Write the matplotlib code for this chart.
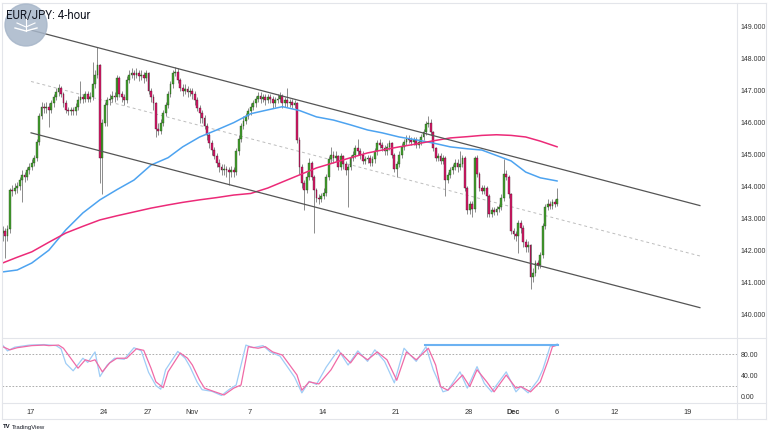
import matplotlib
matplotlib.use("Agg")
import matplotlib.pyplot as plt
from matplotlib.patches import Circle
from matplotlib.lines import Line2D
import numpy as np

# ---------------- data ----------------
TITLE = "EUR/JPY: 4-hour"

# 4-hour candles, bar index 0 = Oct 13 (first visible bar)
OPENS = [
    142.55, 142.60, 142.45, 142.65, 143.90, 143.85,
    143.95, 144.00, 144.20, 144.35, 144.30, 144.50,
    144.60, 144.75, 144.90, 145.40, 146.20, 146.50,
    146.45, 146.50, 146.40, 146.60, 146.80, 146.95,
    147.10, 146.90, 146.60, 146.40, 146.35, 146.40,
    146.35, 146.50, 146.70, 146.80, 146.75, 146.90,
    146.75, 146.80, 147.20, 147.50, 147.80, 144.90,
    146.00, 146.55, 146.70, 146.75, 146.85, 146.80,
    147.40, 146.90, 146.80, 146.70, 147.35, 147.50,
    147.55, 147.50, 147.55, 147.45, 147.50, 147.40,
    147.55, 147.00, 146.80, 146.60, 145.80, 145.75,
    146.00, 146.30, 146.55, 146.90, 147.20, 147.55,
    147.60, 147.35, 147.10, 147.00, 147.05, 146.95,
    147.00, 146.90, 146.70, 146.45, 146.30, 146.15,
    145.90, 145.60, 145.35, 145.15, 144.95, 144.75,
    144.60, 144.50, 144.55, 144.50, 144.45, 144.50,
    144.45, 145.10, 145.50, 145.90, 146.05, 146.20,
    146.35, 146.50, 146.60, 146.75, 146.85, 146.75,
    146.80, 146.70, 146.80, 146.75, 146.60, 146.70,
    146.75, 146.85, 146.60, 146.70, 146.60, 146.65,
    146.55, 146.60, 145.45, 144.60, 144.10, 143.90,
    144.30, 144.75, 144.30, 143.90, 143.65, 143.60,
    143.70, 143.80, 144.30, 144.85, 145.00, 144.90,
    144.95, 144.60, 144.95, 144.70, 144.50, 144.60,
    144.90, 145.00, 145.20, 145.10, 145.00, 144.80,
    144.85, 144.90, 144.75, 144.85, 145.10, 145.35,
    145.30, 145.20, 145.10, 145.25, 145.35, 145.00,
    144.55, 144.70, 145.00, 145.25, 145.40, 145.50,
    145.45, 145.40, 145.45, 145.30, 145.40, 145.55,
    145.70, 145.95, 146.00, 145.70, 145.20, 144.90,
    144.95, 144.80, 144.90, 144.20, 144.35, 144.50,
    144.60, 144.75, 144.60, 144.70, 144.90, 143.95,
    143.25, 143.45, 143.30, 144.90, 144.40, 143.95,
    143.85, 143.95, 143.70, 143.15, 143.25, 143.20,
    143.30, 143.35, 143.65, 144.40, 144.30, 143.75,
    142.60, 142.50, 142.45, 142.85, 142.70, 142.25,
    142.10, 142.15, 141.15, 141.30, 141.60, 141.55,
    141.85, 142.75, 143.35, 143.45, 143.40, 143.50,
    143.45,
]
CLOSES = [
    142.60, 142.45, 142.65, 143.90, 143.85, 143.95,
    144.00, 144.20, 144.35, 144.30, 144.50, 144.60,
    144.75, 144.90, 145.40, 146.20, 146.50, 146.45,
    146.50, 146.40, 146.60, 146.80, 146.95, 147.10,
    146.90, 146.60, 146.40, 146.35, 146.40, 146.35,
    146.50, 146.70, 146.80, 146.75, 146.90, 146.75,
    146.80, 147.20, 147.50, 147.80, 144.90, 146.00,
    146.55, 146.70, 146.75, 146.85, 146.80, 147.40,
    146.90, 146.80, 146.70, 147.35, 147.50, 147.55,
    147.50, 147.55, 147.45, 147.50, 147.40, 147.55,
    147.00, 146.80, 146.60, 145.80, 145.75, 146.00,
    146.30, 146.55, 146.90, 147.20, 147.55, 147.60,
    147.35, 147.10, 147.00, 147.05, 146.95, 147.00,
    146.90, 146.70, 146.45, 146.30, 146.15, 145.90,
    145.60, 145.35, 145.15, 144.95, 144.75, 144.60,
    144.50, 144.55, 144.50, 144.45, 144.50, 144.45,
    145.10, 145.50, 145.90, 146.05, 146.20, 146.35,
    146.50, 146.60, 146.75, 146.85, 146.75, 146.80,
    146.70, 146.80, 146.75, 146.60, 146.70, 146.75,
    146.85, 146.60, 146.70, 146.60, 146.65, 146.55,
    146.60, 145.45, 144.60, 144.10, 143.90, 144.30,
    144.75, 144.30, 143.90, 143.65, 143.60, 143.70,
    143.80, 144.30, 144.85, 145.00, 144.90, 144.95,
    144.60, 144.95, 144.70, 144.50, 144.60, 144.90,
    145.00, 145.20, 145.10, 145.00, 144.80, 144.85,
    144.90, 144.75, 144.85, 145.10, 145.35, 145.30,
    145.20, 145.10, 145.25, 145.35, 145.00, 144.55,
    144.70, 145.00, 145.25, 145.40, 145.50, 145.45,
    145.40, 145.45, 145.30, 145.40, 145.55, 145.70,
    145.95, 146.00, 145.70, 145.20, 144.90, 144.95,
    144.80, 144.90, 144.20, 144.35, 144.50, 144.60,
    144.75, 144.60, 144.70, 144.90, 143.95, 143.25,
    143.45, 143.30, 144.90, 144.40, 143.95, 143.85,
    143.95, 143.70, 143.15, 143.25, 143.20, 143.30,
    143.35, 143.65, 144.40, 144.30, 143.75, 142.60,
    142.50, 142.45, 142.85, 142.70, 142.25, 142.10,
    142.15, 141.15, 141.30, 141.60, 141.55, 141.85,
    142.75, 143.35, 143.45, 143.40, 143.50, 143.45,
    143.60,
]
HIGHS = [
    142.75, 142.70, 142.80, 143.95, 144.05, 144.10,
    144.15, 144.30, 144.50, 144.45, 144.60, 144.75,
    144.85, 145.00, 145.50, 146.30, 146.65, 146.60,
    146.65, 146.60, 146.70, 146.90, 147.10, 147.20,
    147.15, 146.95, 146.70, 146.50, 146.50, 146.50,
    146.60, 146.85, 147.30, 146.90, 147.00, 147.00,
    146.95, 147.90, 147.65, 148.37, 147.85, 146.10,
    146.65, 146.80, 146.90, 147.00, 146.95, 147.50,
    147.45, 147.00, 146.90, 147.45, 147.65, 147.70,
    147.65, 147.70, 147.65, 147.65, 147.60, 147.65,
    147.60, 147.10, 146.90, 146.65, 146.00, 146.10,
    146.40, 146.65, 147.00, 147.30, 147.65, 147.75,
    147.70, 147.40, 147.20, 147.20, 147.15, 147.10,
    147.10, 147.00, 146.80, 146.55, 146.40, 146.25,
    146.00, 145.70, 145.45, 145.25, 145.05, 144.85,
    144.70, 144.70, 144.65, 144.60, 144.65, 144.60,
    145.20, 145.60, 146.00, 146.20, 146.30, 146.45,
    146.60, 146.70, 146.85, 146.95, 146.95, 146.90,
    146.90, 146.90, 146.90, 146.85, 146.80, 146.90,
    146.95, 146.90, 146.80, 147.10, 146.75, 146.75,
    146.70, 146.65, 145.55, 144.70, 144.20, 144.45,
    144.90, 144.80, 144.35, 143.95, 143.75, 143.80,
    143.95, 144.40, 144.95, 145.25, 145.10, 145.10,
    145.00, 145.05, 145.00, 144.80, 144.70, 145.00,
    145.10, 145.30, 145.50, 145.20, 145.10, 144.95,
    145.00, 145.00, 144.95, 145.20, 145.45, 145.50,
    145.40, 145.30, 145.35, 145.45, 145.40, 145.05,
    144.80, 145.10, 145.35, 145.50, 145.60, 145.60,
    145.55, 145.55, 145.55, 145.50, 145.65, 145.80,
    146.05, 146.20, 146.10, 145.75, 145.25, 145.05,
    145.05, 145.00, 144.95, 144.45, 144.60, 144.70,
    144.85, 144.85, 145.10, 145.00, 144.95, 144.00,
    143.55, 143.55, 144.95, 145.00, 144.45, 144.05,
    144.05, 144.00, 143.75, 143.35, 143.35, 143.40,
    143.45, 143.75, 144.85, 144.50, 144.35, 143.80,
    142.70, 142.60, 142.95, 142.95, 142.80, 142.35,
    142.30, 142.20, 141.45, 141.70, 141.70, 141.95,
    142.85, 143.45, 143.60, 143.55, 143.60, 143.60,
    143.95,
]
LOWS = [
    142.30, 141.75, 142.30, 142.55, 143.70, 143.75,
    143.80, 143.90, 143.50, 144.15, 144.20, 144.40,
    144.50, 144.65, 144.80, 145.30, 146.10, 146.30,
    146.30, 145.85, 146.30, 146.50, 146.70, 146.85,
    146.80, 146.50, 146.30, 146.25, 146.25, 146.25,
    146.25, 146.40, 146.60, 146.60, 146.65, 146.65,
    146.65, 146.70, 147.10, 147.40, 144.10, 143.75,
    145.90, 145.90, 146.55, 146.65, 146.65, 146.70,
    146.80, 146.65, 146.55, 146.60, 147.25, 147.40,
    147.35, 147.40, 147.30, 147.35, 147.25, 147.30,
    146.90, 146.65, 146.40, 145.55, 145.60, 145.65,
    145.90, 146.20, 146.45, 146.80, 147.10, 147.45,
    147.25, 147.00, 146.85, 146.90, 146.80, 146.85,
    146.75, 146.55, 146.35, 146.00, 146.00, 145.80,
    145.45, 145.20, 145.00, 144.85, 144.60, 144.45,
    144.35, 144.35, 144.30, 144.05, 144.30, 144.30,
    144.35, 145.00, 145.40, 145.80, 145.95, 146.10,
    146.25, 146.40, 146.50, 146.65, 146.60, 146.65,
    146.55, 146.60, 146.60, 146.45, 146.50, 146.60,
    146.65, 146.45, 146.50, 146.50, 146.50, 146.45,
    146.45, 145.35, 144.40, 143.95, 143.25, 143.80,
    144.20, 144.20, 142.55, 143.50, 143.45, 143.50,
    143.60, 143.70, 144.20, 144.75, 144.75, 144.80,
    144.50, 144.50, 144.55, 144.35, 143.35, 144.50,
    144.80, 144.90, 145.00, 144.85, 144.70, 144.70,
    144.75, 144.65, 144.65, 144.75, 145.00, 145.20,
    145.10, 145.00, 145.00, 145.15, 144.90, 144.45,
    144.30, 144.60, 144.90, 145.15, 145.30, 145.35,
    145.30, 145.30, 145.20, 145.20, 145.30, 145.45,
    145.60, 145.85, 145.60, 145.10, 144.80, 144.80,
    144.70, 144.70, 143.70, 144.10, 144.25, 144.40,
    144.50, 144.45, 144.50, 144.60, 143.85, 143.15,
    143.15, 143.05, 143.20, 144.30, 143.85, 143.75,
    143.75, 143.05, 143.05, 143.05, 143.10, 143.10,
    143.20, 143.25, 143.55, 144.20, 143.65, 142.50,
    142.35, 142.30, 141.90, 142.55, 142.10, 141.95,
    141.95, 140.80, 141.00, 141.20, 141.40, 141.45,
    141.75, 142.65, 143.25, 143.30, 143.30, 143.35,
    143.40,
]

# Moving averages, read at these bar positions
MA_BARS = [0, 6, 12, 19, 26, 33, 40, 47, 54, 61, 68, 74, 81, 88, 95, 102,
           109, 115, 122, 129, 136, 143, 150, 156, 163, 170, 177, 184, 191,
           197, 203, 209, 215, 221, 228]
MA_FAST = [141.32, 141.38, 141.60, 142.00, 142.64, 143.17, 143.58, 143.90,
           144.20, 144.67, 144.90, 145.24, 145.55, 145.77, 146.00, 146.28,
           146.40, 146.50, 146.38, 146.18, 146.08, 145.93, 145.77, 145.68,
           145.55, 145.46, 145.36, 145.24, 145.18, 145.14, 144.97, 144.80,
           144.45, 144.27, 144.17]
MA_SLOW = [141.60, 141.78, 141.95, 142.25, 142.54, 142.75, 142.95, 143.08,
           143.20, 143.32, 143.42, 143.50, 143.58, 143.65, 143.73, 143.78,
           143.95, 144.14, 144.36, 144.58, 144.74, 144.90, 145.05, 145.14,
           145.24, 145.33, 145.43, 145.52, 145.56, 145.60, 145.62, 145.60,
           145.55, 145.42, 145.24]

# Descending channel (bar, price) endpoints
CH_BARS = [11.7, 286.6]
CH_UPPER = [148.90, 143.40]
CH_MID = [147.29, 141.82]
CH_LOWER = [145.68, 140.20]

# Stochastic oscillator
K_BARS = [0, 2, 5, 11, 17, 22, 24, 26, 29, 33, 35, 38, 40, 43, 46, 50, 54,
          57, 60, 63, 65, 67, 72, 75, 77, 80, 82, 86, 90, 93, 96, 100, 103,
          107, 110, 114, 117, 120, 123, 126, 129, 133, 138, 142, 146, 150,
          153, 157, 161, 165, 170, 174, 177, 181, 183, 188, 191, 195, 198,
          201, 207, 211, 213, 216, 220, 222, 225, 228]
K_VALS = [97, 86, 93, 97, 98, 96, 90, 62, 48, 72, 64, 84, 37, 59, 72, 70, 92,
          86, 45, 20, 13, 50, 85, 72, 56, 26, 12, 9, 1, 12, 21, 97, 92, 96,
          84, 76, 56, 36, 6, 28, 22, 55, 88, 59, 86, 66, 88, 66, 25, 91, 66,
          94, 50, 8, 11, 46, 15, 56, 24, 8, 46, 8, 18, 6, 30, 50, 94, 99]
D_BARS = [0, 3, 6, 12, 17, 19, 23, 25, 28, 31, 34, 36, 38, 41, 44, 47, 51,
          55, 58, 61, 63, 66, 68, 73, 76, 78, 81, 83, 86, 91, 95, 98, 101,
          105, 108, 111, 115, 118, 121, 123, 126, 130, 135, 139, 143, 146,
          150, 154, 158, 162, 166, 170, 175, 178, 180, 183, 189, 192, 195,
          199, 202, 207, 211, 213, 217, 221, 224, 226, 228]
D_VALS = [94, 88, 92, 96, 97, 96, 97, 91, 72, 53, 69, 66, 69, 46, 63, 72, 72,
          90, 87, 53, 27, 16, 46, 82, 72, 59, 30, 15, 10, 2, 15, 21, 94, 91,
          94, 84, 78, 59, 40, 11, 27, 23, 50, 82, 63, 82, 69, 84, 69, 30, 84,
          69, 91, 59, 18, 11, 40, 18, 50, 27, 8, 40, 15, 18, 8, 27, 65, 94, 97]
STOCH_LINE_BARS = [173.6, 228.3]
STOCH_LINE_VAL = 98
STOCH_BANDS = [80, 20]

PRICE_TICKS = [140, 141, 142, 143, 144, 145, 146, 147, 148, 149]
OSC_TICKS = [0, 40, 80]
DATE_DAYS = [0, 5, 8, 11, 15, 20, 25, 30, 33, 36, 40, 45]
DATE_LABELS = ["17", "24", "27", "Nov", "7", "14", "21", "28", "Dec", "6", "12", "19"]
BARS_PER_DAY = 6
FIRST_DAY_BAR = 11.67

# ---------------- figure ----------------
W, H = 768, 432
fig = plt.figure(figsize=(W / 100, H / 100), dpi=100)
fig.patch.set_facecolor("white")
FONT = ["Liberation Sans", "DejaVu Sans"]
TXT = "#333333"


def fx(px):
    return px / W


def fy(py):
    return 1 - py / H


XL, XR = 2, 737
ax = fig.add_axes([fx(XL), fy(337), (XR - XL) / W, (337 - 3) / H])
axs = fig.add_axes([fx(XL), fy(403), (XR - XL) / W, (403 - 339) / H], sharex=ax)

for a in (ax, axs):
    a.set_facecolor("white")
    for s in a.spines.values():
        s.set_visible(False)
    a.tick_params(length=0)

ax.set_xlim(-0.25, 301.85)
ax.set_ylim(139.28, 149.75)
axs.set_ylim(-13.3, 108.6)

# candles
n = len(CLOSES)
xs = np.arange(n)
o = np.array(OPENS)
c = np.array(CLOSES)
hi = np.array(HIGHS)
lo = np.array(LOWS)
up = c >= o
GREEN, RED = "#44a12f", "#d81b6a"
ax.vlines(xs, lo, hi, color="#8c8c8c", lw=0.7, zorder=3)
bottoms = np.minimum(o, c)
heights = np.maximum(np.abs(c - o), 0.015)
ax.bar(xs[up], heights[up], bottom=bottoms[up], width=0.75, color=GREEN,
       edgecolor="#1e3d14", linewidth=0.25, zorder=4)
ax.bar(xs[~up], heights[~up], bottom=bottoms[~up], width=0.75, color=RED,
       edgecolor="#3d0b1e", linewidth=0.25, zorder=4)

# moving averages
ax.plot(MA_BARS, MA_FAST, color="#4da3f0", lw=1.1, zorder=5, solid_capstyle="round")
ax.plot(MA_BARS, MA_SLOW, color="#ec2a78", lw=1.1, zorder=5, solid_capstyle="round")

# channel
ax.plot(CH_BARS, CH_UPPER, color="#555555", lw=0.9, zorder=6)
ax.plot(CH_BARS, CH_LOWER, color="#555555", lw=0.9, zorder=6)
ax.plot(CH_BARS, CH_MID, color="#bdbdbd", lw=0.7, ls=(0, (3, 3)), zorder=2)

# price axis labels on right
ax.yaxis.tick_right()
ax.set_yticks(PRICE_TICKS)
ax.set_yticklabels([f"{v:.3f}" for v in PRICE_TICKS], fontsize=5, color=TXT,
                   family=FONT)
ax.tick_params(axis="y", pad=2.5)
ax.tick_params(axis="x", labelbottom=False)

# stochastic
for b in STOCH_BANDS:
    axs.axhline(b, color="#a0a0a0", lw=0.6, ls=(0, (2, 2)), zorder=1)
axs.plot(K_BARS, K_VALS, color="#9fcdf6", lw=0.9, zorder=3)
axs.plot(D_BARS, D_VALS, color="#f06aa6", lw=0.9, zorder=4)
axs.plot(STOCH_LINE_BARS, [STOCH_LINE_VAL] * 2, color="#6cb2f2", lw=1.5, zorder=5)
axs.yaxis.tick_right()
axs.set_yticks(OSC_TICKS)
axs.set_yticklabels([f"{v:.2f}" for v in OSC_TICKS], fontsize=5, color=TXT,
                    family=FONT)
axs.tick_params(axis="y", pad=2.5)

# date axis
tick_pos = [FIRST_DAY_BAR + BARS_PER_DAY * d for d in DATE_DAYS]
axs.set_xticks(tick_pos)
axs.set_xticklabels(DATE_LABELS, fontsize=5.3, color=TXT, family=FONT)
axs.tick_params(axis="x", pad=4)
for lab in axs.get_xticklabels():
    if lab.get_text() == "Dec":
        lab.set_fontweight("bold")

# frame lines
GRID = "#e3e5ea"


def hline(py, x0=2, x1=766):
    fig.add_artist(Line2D([fx(x0), fx(x1)], [fy(py), fy(py)], color=GRID, lw=0.8))


def vline(px, y0=3, y1=419):
    fig.add_artist(Line2D([fx(px), fx(px)], [fy(y0), fy(y1)], color=GRID, lw=0.8))


for py in (3, 338, 403, 419):
    hline(py)
for px in (2, 737, 766):
    vline(px)

# overlay: logo + title + footer
oax = fig.add_axes([0, 0, 1, 1], zorder=20)
oax.set_xlim(0, W)
oax.set_ylim(H, 0)
oax.axis("off")
oax.patch.set_alpha(0)
oax.add_patch(Circle((26, 25), 21, color="#a7b6c9", alpha=0.85, zorder=1))
oax.plot([15, 26, 37], [28, 31, 28], color="white", lw=1.0, zorder=2)
oax.plot([17, 26, 35], [23, 27, 23], color="white", lw=0.8, zorder=2)
oax.plot([26, 26], [18, 31], color="white", lw=0.8, zorder=2)
oax.text(6, 15, TITLE, fontsize=8.3, color="#131722", va="center", ha="left",
         family=["Roboto", "DejaVu Sans"], zorder=3)
oax.text(3, 427, "TV", fontsize=4.3, fontweight="bold", color="#131722",
         va="center", ha="left", family=FONT)
oax.text(12, 427, "TradingView", fontsize=4.3, color="#131722",
         va="center", ha="left", family=FONT)

fig.savefig("out.png", dpi=100, facecolor="white")
